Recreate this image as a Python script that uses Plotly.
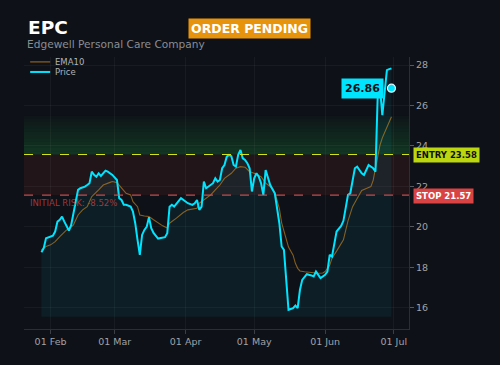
import plotly.graph_objects as go

# ---------------- data ----------------
price_dates = [
    "2025-01-28", "2025-01-29", "2025-01-30", "2025-02-01", "2025-02-02", "2025-02-03", "2025-02-04",
    "2025-02-05", "2025-02-06", "2025-02-07", "2025-02-08", "2025-02-09", "2025-02-10", "2025-02-11",
    "2025-02-12", "2025-02-13", "2025-02-14", "2025-02-16", "2025-02-17", "2025-02-18", "2025-02-19",
    "2025-02-20", "2025-02-21", "2025-02-22", "2025-02-23", "2025-02-24", "2025-02-25", "2025-02-26",
    "2025-02-28", "2025-03-02", "2025-03-03", "2025-03-04", "2025-03-05", "2025-03-06", "2025-03-07",
    "2025-03-08", "2025-03-09", "2025-03-10", "2025-03-11", "2025-03-12", "2025-03-13", "2025-03-14",
    "2025-03-15", "2025-03-16", "2025-03-17", "2025-03-18", "2025-03-20", "2025-03-23", "2025-03-24",
    "2025-03-25", "2025-03-26", "2025-03-27", "2025-03-30", "2025-04-01", "2025-04-02", "2025-04-04",
    "2025-04-05", "2025-04-06", "2025-04-07", "2025-04-08", "2025-04-09", "2025-04-10", "2025-04-11",
    "2025-04-13", "2025-04-14", "2025-04-15", "2025-04-16", "2025-04-17", "2025-04-18", "2025-04-19",
    "2025-04-20", "2025-04-21", "2025-04-22", "2025-04-23", "2025-04-24", "2025-04-25", "2025-04-26",
    "2025-04-27", "2025-04-28", "2025-04-29", "2025-04-30", "2025-05-01", "2025-05-02", "2025-05-03",
    "2025-05-04", "2025-05-05", "2025-05-06", "2025-05-08", "2025-05-10", "2025-05-12", "2025-05-13",
    "2025-05-14", "2025-05-15", "2025-05-16", "2025-05-18", "2025-05-19", "2025-05-20", "2025-05-21",
    "2025-05-22", "2025-05-24", "2025-05-26", "2025-05-27", "2025-05-28", "2025-05-30", "2025-06-01",
    "2025-06-02", "2025-06-03", "2025-06-04", "2025-06-06", "2025-06-08", "2025-06-09", "2025-06-10",
    "2025-06-11", "2025-06-12", "2025-06-14", "2025-06-15", "2025-06-17", "2025-06-18", "2025-06-20",
    "2025-06-22", "2025-06-23", "2025-06-24", "2025-06-25", "2025-06-26", "2025-06-28", "2025-06-29",
    "2025-06-30",
]
price_values = [
    18.75, 18.95, 19.44, 19.52, 19.56, 19.77, 20.26,
    20.35, 20.51, 20.26, 20.05, 19.82, 20.10, 20.68,
    21.17, 21.83, 21.91, 21.99, 22.07, 22.16, 22.73,
    22.57, 22.48, 22.65, 22.52, 22.68, 22.78, 22.73,
    22.57, 22.32, 21.42, 21.33, 21.09, 21.09, 21.04,
    21.00, 20.76, 20.18, 19.36, 18.62, 19.60, 19.85,
    20.00, 20.48, 19.94, 19.70, 19.42, 19.49, 19.69,
    21.00, 21.09, 21.00, 21.42, 21.25, 21.17, 21.09,
    21.17, 21.33, 20.84, 21.00, 22.24, 21.91, 21.99,
    22.16, 22.40, 22.24, 22.32, 22.90, 23.06, 23.47,
    23.56, 23.50, 23.06, 22.98, 23.56, 23.80, 23.39,
    23.31, 23.15, 22.90, 21.75, 22.40, 22.65, 22.48,
    22.16, 21.58, 22.81, 22.07, 21.66, 20.18, 19.03,
    18.86, 17.38, 15.90, 15.98, 16.11, 15.98, 16.89,
    17.38, 17.66, 17.60, 17.55, 17.79, 17.47, 17.63,
    17.79, 18.62, 18.53, 19.77, 20.05, 20.30, 20.92,
    21.58, 21.66, 22.90, 22.98, 22.65, 22.57, 23.06,
    22.90, 22.73, 26.52, 26.85, 25.53, 27.75, 27.80,
    27.84, 26.86,
]
ema_dates = [
    "2025-01-28", "2025-01-30", "2025-02-01", "2025-02-03", "2025-02-05", "2025-02-08", "2025-02-09",
    "2025-02-11", "2025-02-13", "2025-02-15", "2025-02-17", "2025-02-19", "2025-02-22", "2025-02-24",
    "2025-02-27", "2025-02-28", "2025-03-02", "2025-03-04", "2025-03-06", "2025-03-08", "2025-03-09",
    "2025-03-11", "2025-03-12", "2025-03-14", "2025-03-16", "2025-03-18", "2025-03-20", "2025-03-22",
    "2025-03-24", "2025-03-25", "2025-03-28", "2025-03-31", "2025-04-02", "2025-04-04", "2025-04-06",
    "2025-04-07", "2025-04-10", "2025-04-12", "2025-04-14", "2025-04-16", "2025-04-18", "2025-04-21",
    "2025-04-23", "2025-04-25", "2025-04-27", "2025-04-29", "2025-05-01", "2025-05-04", "2025-05-06",
    "2025-05-08", "2025-05-10", "2025-05-12", "2025-05-13", "2025-05-15", "2025-05-16", "2025-05-18",
    "2025-05-19", "2025-05-20", "2025-05-21", "2025-05-23", "2025-05-26", "2025-05-29", "2025-05-31",
    "2025-06-01", "2025-06-03", "2025-06-04", "2025-06-06", "2025-06-09", "2025-06-11", "2025-06-13",
    "2025-06-15", "2025-06-17", "2025-06-19", "2025-06-21", "2025-06-22", "2025-06-23", "2025-06-24",
    "2025-06-25", "2025-06-26", "2025-06-28", "2025-06-30",
]
ema_values = [
    18.86, 19.03, 19.11, 19.27, 19.52, 19.85, 19.89,
    20.10, 20.59, 20.84, 21.00, 21.50, 21.83, 22.07,
    22.20, 22.24, 22.19, 21.91, 21.66, 21.58, 21.25,
    21.00, 20.59, 20.54, 20.51, 20.35, 20.18, 20.05,
    19.94, 20.18, 20.43, 20.71, 20.84, 20.89, 20.92,
    21.17, 21.42, 21.58, 21.83, 22.07, 22.40, 22.65,
    22.90, 22.98, 22.95, 22.73, 22.65, 22.48, 22.16,
    22.00, 21.70, 20.90, 20.20, 19.30, 19.00, 18.60,
    18.20, 17.95, 17.82, 17.78, 17.74, 17.71, 17.72,
    17.79, 18.10, 18.45, 18.80, 19.36, 20.30, 21.00,
    21.40, 21.80, 21.90, 21.99, 22.30, 22.90, 23.50,
    24.05, 24.40, 24.95, 25.45,
]

ticker = "EPC"
company = "Edgewell Personal Care Company"
status = "ORDER PENDING"
legend_names = ["EMA10", "Price"]
entry_price = 23.58
stop_price = 21.57
last_price = 26.86
initial_risk = "-8.52%"
target_top = 25.5
fill_base = 15.55

x_range = ["2025-01-20 09:00", "2025-07-07 16:00"]
y_range = [14.95, 28.4]

BG = "#0e1117"
CYAN = "#00e5ff"
EMA_COLOR = "rgba(205,140,35,0.62)"
FONT = "DejaVu Sans"

fig = go.Figure()

# base for the area fill under price
fig.add_trace(go.Scatter(
    x=[price_dates[0], price_dates[-1]], y=[fill_base, fill_base],
    mode="lines", line=dict(width=0), showlegend=False, hoverinfo="skip"))
fig.add_trace(go.Scatter(
    x=price_dates, y=price_values, mode="lines", line=dict(width=0),
    fill="tonexty", fillcolor="rgba(0,229,255,0.065)", showlegend=False, hoverinfo="skip"))

fig.add_trace(go.Scatter(
    x=ema_dates, y=ema_values, mode="lines", name=legend_names[0],
    line=dict(color=EMA_COLOR, width=1.1), showlegend=False))
fig.add_trace(go.Scatter(
    x=price_dates, y=price_values, mode="lines", name=legend_names[1],
    line=dict(color=CYAN, width=2), showlegend=False))
fig.add_trace(go.Scatter(
    x=[price_dates[-1]], y=[last_price], mode="markers", showlegend=False,
    marker=dict(color=CYAN, size=8, line=dict(color="#d8fbff", width=1.2))))

shapes = []
# green gradient target zone
n = 12
h = (target_top - entry_price) / n
for i in range(n):
    shapes.append(dict(
        type="rect", xref="paper", yref="y", x0=0, x1=1,
        y0=entry_price + i * h, y1=entry_price + (i + 1) * h,
        fillcolor="rgba(34,190,80,%.3f)" % (0.20 * (1 - i / n) + 0.015),
        line=dict(width=0), layer="below"))
# risk zone
shapes.append(dict(type="rect", xref="paper", yref="y", x0=0, x1=1,
                   y0=stop_price, y1=entry_price,
                   fillcolor="rgba(235,70,70,0.09)", line=dict(width=0), layer="below"))
# entry / stop lines
shapes.append(dict(type="line", xref="paper", yref="y", x0=0, x1=1,
                   y0=entry_price, y1=entry_price,
                   line=dict(color="#d6e31a", width=1.2, dash="dash")))
shapes.append(dict(type="line", xref="paper", yref="y", x0=0, x1=1,
                   y0=stop_price, y1=stop_price,
                   line=dict(color="rgba(225,85,85,0.85)", width=1.2, dash="dash")))
# manual legend swatches
legend_y = [0.982, 0.945]
legend_colors = [EMA_COLOR, CYAN]
legend_widths = [1.3, 2]
for ly, lc, lw in zip(legend_y, legend_colors, legend_widths):
    shapes.append(dict(type="line", xref="paper", yref="paper", x0=0.016, x1=0.068,
                       y0=ly, y1=ly, line=dict(color=lc, width=lw)))

annotations = [
    dict(xref="paper", yref="paper", x=0.004, y=1.108, xanchor="left", yanchor="middle",
         text="<b>%s</b>" % ticker, showarrow=False,
         font=dict(family=FONT, size=18.5, color="#ffffff")),
    dict(xref="paper", yref="paper", x=0.003, y=1.046, xanchor="left", yanchor="middle",
         text=company, showarrow=False,
         font=dict(family=FONT, size=10.6, color="#8a8d93")),
    dict(xref="paper", yref="paper", x=0.586, y=1.106, xanchor="center", yanchor="middle",
         text="<b>%s</b>" % status, showarrow=False, bgcolor="#e8930c",
         borderpad=2, font=dict(family=FONT, size=12.5, color="#ffffff")),
    dict(xref="paper", yref="y", x=1.01, y=entry_price, xanchor="left", yanchor="middle",
         yshift=-1, text="<b>ENTRY %.2f</b>" % entry_price, showarrow=False, bgcolor="#bcd70f",
         borderpad=2, font=dict(family=FONT, size=8.5, color="#111111")),
    dict(xref="paper", yref="y", x=1.01, y=stop_price, xanchor="left", yanchor="middle",
         yshift=-1, text="<b>STOP %.2f</b>" % stop_price, showarrow=False, bgcolor="#d94343",
         borderpad=2, font=dict(family=FONT, size=8.5, color="#ffffff")),
    dict(xref="paper", yref="y", x=0.01, y=stop_price, xanchor="left", yanchor="top",
         yshift=-1, text="INITIAL RISK: %s" % initial_risk, showarrow=False,
         font=dict(family=FONT, size=8.5, color="rgba(205,70,70,0.75)")),
    dict(xref="x", yref="y", x=price_dates[-1], y=last_price, xanchor="right", yanchor="middle",
         xshift=-7, text="<b>%.2f</b>" % last_price, showarrow=False, bgcolor=CYAN,
         borderpad=3, font=dict(family=FONT, size=11, color="#0e1117")),
]
for ly, name in zip(legend_y, legend_names):
    annotations.append(dict(xref="paper", yref="paper", x=0.076, y=ly, xanchor="left",
                            yanchor="middle", text=name, showarrow=False,
                            font=dict(family=FONT, size=8.5, color="#b0b3b8")))

fig.update_layout(
    width=500, height=365,
    margin=dict(l=24, r=91, t=57, b=36),
    paper_bgcolor=BG, plot_bgcolor=BG,
    font=dict(family=FONT, color="#9a9da3"),
    shapes=shapes, annotations=annotations,
    showlegend=False,
    xaxis=dict(range=x_range, type="date", tickformat="%d %b", dtick="M1",
               tick0="2025-02-01", showgrid=True, gridcolor="rgba(255,255,255,0.045)",
               showline=True, linecolor="#2a2e36", ticks="outside", tickcolor="#3a3e46",
               ticklen=4, tickfont=dict(size=9.5, color="#a0a3a8"), zeroline=False),
    yaxis=dict(range=y_range, side="right", dtick=2, tick0=16,
               showgrid=True, gridcolor="rgba(255,255,255,0.045)",
               showline=True, linecolor="#2a2e36", ticks="outside", tickcolor="#55595f",
               ticklen=4, tickfont=dict(size=9.5, color="#a0a3a8"), zeroline=False),
)

fig.write_html("out.html")
